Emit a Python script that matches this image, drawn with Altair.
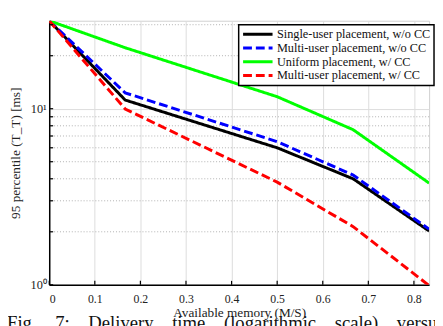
import altair as alt
import pandas as pd

# ---- data ----
x_vals = [0.0, 1/6, 0.5, 2/3, 5/6]
series_names = [
    "Single-user placement, w/o CC",
    "Multi-user placement, w/o CC",
    "Uniform placement, w/ CC",
    "Multi-user placement, w/ CC",
]
single_wo = [31.6, 11.2, 6.0, 4.0, 2.02]
multi_wo = [31.6, 12.3, 6.5, 4.2, 2.07]
uniform_w = [31.6, 22.2, 11.7, 7.6, 3.78]
multi_w = [31.6, 9.96, 3.83, 2.14, 0.99]
series_colors = ["#000000", "#0000ff", "#00ff00", "#ff0000"]
series_dash = [[1, 0], [9, 4], [1, 0], [9, 4]]

x_ticks = [0, 0.1, 0.2, 0.3, 0.4, 0.5, 0.6, 0.7, 0.8]
y_major = [1, 10]
y_minor = [2, 3, 4, 5, 6, 7, 8, 9, 20, 30]

caption_words = ["Fig.", "7:", "Delivery", "time", "(logarithmic", "scale)", "versus"]
caption = ("\u00a0" * 4).join(caption_words)

rows = []
for name, vals in zip(series_names, [single_wo, multi_wo, uniform_w, multi_w]):
    for xv, yv in zip(x_vals, vals):
        rows.append({"x": xv, "y": yv, "series": name})
df = pd.DataFrame(rows)

W, H = 387, 269
FONT = "Liberation Serif"

xscale = alt.Scale(domain=[0, 5/6], nice=False, zero=False)
yscale = alt.Scale(type="log", domain=[1, 31.6], nice=False)

minor_grid = alt.Chart(pd.DataFrame({"v": y_minor})).mark_rule(
    color="#b0b0b0", strokeDash=[1, 2], strokeWidth=1
).encode(y=alt.Y("v:Q", scale=yscale))

lines = alt.Chart(df).mark_line(strokeWidth=3, clip=True).encode(
    x=alt.X(
        "x:Q",
        scale=xscale,
        axis=alt.Axis(
            values=x_ticks,
            labelExpr="datum.value == 0 ? '0' : format(datum.value, '.1f')",
            title="Available memory (M/S)",
            grid=True,
            gridColor="#dcdcdc",
            gridWidth=1,
            domainColor="#000000",
            domainWidth=1.5,
            tickSize=0,
            labelPadding=9,
            labelFont=FONT,
            labelFontSize=12,
            labelColor="#222",
            titleFont=FONT,
            titleFontSize=13.5,
            titleFontWeight="normal",
            titleColor="#222",
            titlePadding=1,
        ),
    ),
    y=alt.Y(
        "y:Q",
        scale=yscale,
        axis=alt.Axis(
            values=y_major,
            labelExpr="datum.value == 1 ? '10⁰' : '10¹'",
            title="95 percentile (T_T) [ms]",
            grid=True,
            gridColor="#dcdcdc",
            gridWidth=1,
            domainColor="#000000",
            domainWidth=1.5,
            tickSize=0,
            labelPadding=3,
            labelFont=FONT,
            labelFontSize=12.5,
            labelColor="#222",
            titleFont=FONT,
            titleFontSize=13.5,
            titleFontWeight="normal",
            titleColor="#222",
            titlePadding=8,
        ),
    ),
    color=alt.Color(
        "series:N",
        scale=alt.Scale(domain=series_names, range=series_colors),
        sort=series_names,
        title=None,
    ),
    strokeDash=alt.StrokeDash(
        "series:N",
        scale=alt.Scale(domain=series_names, range=series_dash),
        sort=series_names,
        title=None,
    ),
)

xticks_layer = alt.Chart(pd.DataFrame({"v": x_ticks})).mark_rule(
    color="#000", strokeWidth=1.2
).encode(x=alt.X("v:Q", scale=xscale), y=alt.value(H), y2=alt.value(H - 4))

yticks_layer = alt.Chart(pd.DataFrame({"v": y_major + y_minor})).mark_rule(
    color="#000", strokeWidth=1.2
).encode(y=alt.Y("v:Q", scale=yscale), x=alt.value(0), x2=alt.value(4))

cap = alt.Chart(pd.DataFrame({"t": [caption]})).mark_text(
    font=FONT, fontSize=19, align="left", baseline="alphabetic", color="#111"
).encode(text="t:N", x=alt.value(-43), y=alt.value(H + 45))

chart = alt.layer(minor_grid, lines, xticks_layer, yticks_layer, cap).properties(
    width=W,
    height=H,
    autosize=alt.AutoSizeParams(type="none"),
    padding={"left": 42, "top": 10, "right": 6, "bottom": 39},
).configure_view(
    stroke="#d0d0d0", strokeWidth=1
).configure_legend(
    orient="none",
    legendX=193,
    legendY=4,
    symbolType="stroke",
    symbolSize=900,
    symbolStrokeWidth=3,
    labelFont=FONT,
    labelFontSize=12.5,
    labelColor="#111",
    labelLimit=300,
    clipHeight=13.5,
    rowPadding=0,
    padding=3,
    strokeColor="#000",
    strokeWidth=1.5,
    fillColor="#ffffff",
    cornerRadius=0,
    labelOffset=3,
)

chart.save("out.html", embed_options={"renderer": "svg", "actions": False})
